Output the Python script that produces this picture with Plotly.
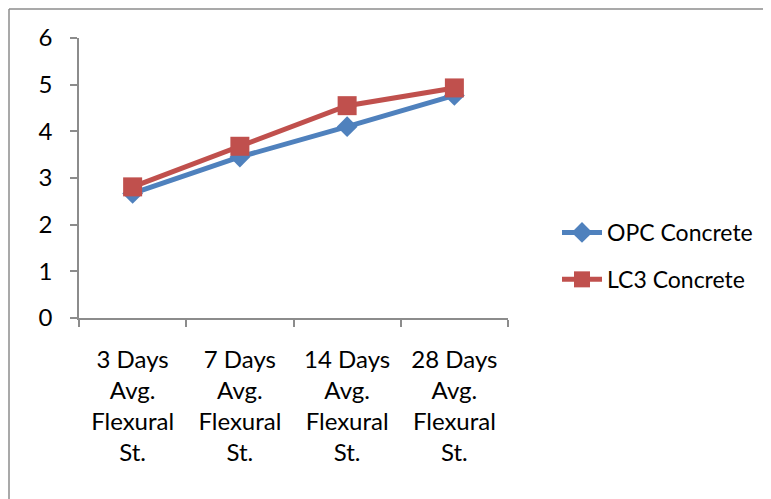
import plotly.graph_objects as go

categories = ["3 Days<br>Avg.<br>Flexural<br>St.",
              "7 Days<br>Avg.<br>Flexural<br>St.",
              "14 Days<br>Avg.<br>Flexural<br>St.",
              "28 Days<br>Avg.<br>Flexural<br>St."]
opc_values = [2.67, 3.45, 4.10, 4.77]
lc3_values = [2.81, 3.68, 4.55, 4.93]
y_ticks = [0, 1, 2, 3, 4, 5, 6]

W, H = 771, 499
OFF = 8  # page body margin
ML, MT = 79 - OFF, 38 - OFF
PW, PH = 429, 280
MR, MB = W - ML - PW, H - MT - PH

def px_x(p):
    return (p - OFF - ML) / PW

def px_y(p):
    return (MT + PH - (p - OFF)) / PH

FONT = "Lato"

fig = go.Figure()
fig.add_trace(go.Scatter(
    x=categories, y=opc_values, name="OPC Concrete", mode="lines+markers",
    line=dict(color="#4F81BD", width=5),
    marker=dict(symbol="diamond", size=16, color="#4F81BD"),
    legendgroup="a"))
fig.add_trace(go.Scatter(
    x=categories, y=lc3_values, name="LC3 Concrete", mode="lines+markers",
    line=dict(color="#C0504D", width=5),
    marker=dict(symbol="square", size=19, color="#C0504D"),
    legendgroup="b"))

axis_color = "#8c8c8c"
fig.update_layout(
    width=W, height=H,
    margin=dict(l=ML, r=MR, t=MT, b=MB, autoexpand=False),
    paper_bgcolor="white", plot_bgcolor="white",
    font=dict(family=FONT, size=24, color="black"),
    xaxis=dict(type="category", range=[-0.5, 3.5], showgrid=False, zeroline=False,
               showline=True, linecolor=axis_color, linewidth=1.5,
               ticks="outside", ticklen=7, tickcolor=axis_color, tickwidth=1.5,
               tickson="boundaries", tickangle=0, ticklabelstandoff=19),
    yaxis=dict(range=[0, 6], tickvals=y_ticks, showgrid=False, zeroline=False,
               showline=True, linecolor=axis_color, linewidth=1.5,
               ticks="outside", ticklen=7, tickcolor=axis_color, tickwidth=1.5,
               ticklabelstandoff=13),
    legend=dict(x=px_x(557), y=px_y(256), xanchor="left", yanchor="middle",
                font=dict(family=FONT, size=23), traceorder="grouped",
                tracegroupgap=14, bgcolor="rgba(0,0,0,0)", itemwidth=40),
    showlegend=True,
)

# outer chart frame (cropped by the picture edges)
frame = dict(type="line", xref="paper", yref="paper",
             line=dict(color="#8c8c8c", width=1.5))
fig.add_shape(**frame, x0=px_x(9), x1=px_x(9), y0=px_y(9), y1=px_y(520))
fig.add_shape(**frame, x0=px_x(9), x1=px_x(800), y0=px_y(9), y1=px_y(9))

fig.write_html("out.html")
